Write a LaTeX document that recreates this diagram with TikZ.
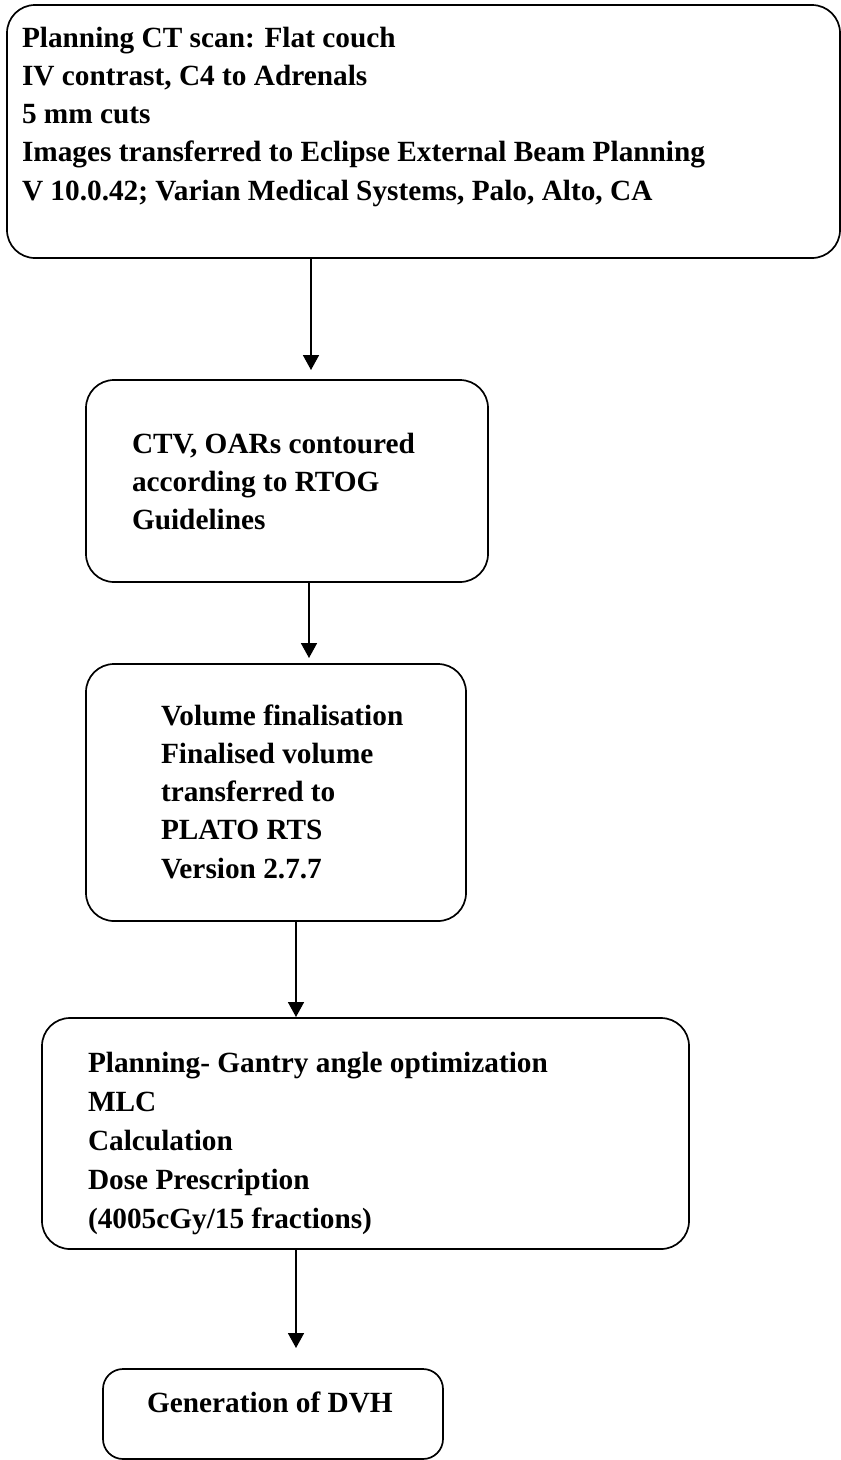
\documentclass[tikz,border=0pt]{standalone}
\usepackage{fontspec}
\setmainfont{Liberation Serif}
\usetikzlibrary{arrows.meta}
\tikzset{
  box/.style={draw=black, line width=1.7pt, rounded corners=28pt, inner sep=0pt, outer sep=0pt},
  txt/.style={anchor=base west, inner sep=0pt, outer sep=0pt, font=\fontsize{29.3}{38.3}\selectfont\bfseries},
  arr/.style={line width=1.7pt, -{Triangle[width=16pt,length=15pt]}},
}
\begin{document}
\begin{tikzpicture}[x=1pt,y=-1pt]
\useasboundingbox (0,0) rectangle (841,1460);
% boxes
\node[box, minimum width=833pt, minimum height=253pt] (b1) at (423.5,131.5) {};
\node[box, minimum width=402pt, minimum height=202pt] (b2) at (287,481) {};
\node[box, minimum width=380pt, minimum height=257pt] (b3) at (276,792.5) {};
\node[box, minimum width=647pt, minimum height=231pt] (b4) at (365.5,1133.5) {};
\node[box, rounded corners=20pt, minimum width=340pt, minimum height=90pt] (b5) at (273,1414) {};
% texts
\node[txt] (t1) at (22,47) {\begin{tabular}[t]{@{}l@{}}Planning CT scan: Flat couch\\IV contrast, C4 to Adrenals\\5 mm cuts\\Images transferred to Eclipse External Beam Planning\\V 10.0.42; Varian Medical Systems, Palo, Alto, CA\end{tabular}};
\node[txt] (t2) at (132,453) {\begin{tabular}[t]{@{}l@{}}CTV, OARs contoured\\according to RTOG\\Guidelines\end{tabular}};
\node[txt] (t3) at (161,725) {\begin{tabular}[t]{@{}l@{}}Volume finalisation\\Finalised volume\\transferred to\\PLATO RTS\\Version 2.7.7\end{tabular}};
\node[txt, font=\fontsize{29.3}{39}\selectfont\bfseries] (t4) at (88,1072) {\begin{tabular}[t]{@{}l@{}}Planning- Gantry angle optimization\\MLC\\Calculation\\Dose Prescription\\(4005cGy/15 fractions)\end{tabular}};
\node[txt] (t5) at (147,1412) {Generation of DVH};
% arrows
\coordinate (xa) at (311,0);
\coordinate (xb) at (309,0);
\coordinate (xc) at (296,0);
\draw[arr, shorten >=10pt] (b1.south -| xa) -- (b2.north -| xa);
\draw[arr, shorten >=6pt] (b2.south -| xb) -- (b3.north -| xb);
\draw[arr, shorten >=1pt] (b3.south -| xc) -- (b4.north -| xc);
\draw[arr, shorten >=21pt] (b4.south -| xc) -- (b5.north -| xc);
\end{tikzpicture}
\end{document}
